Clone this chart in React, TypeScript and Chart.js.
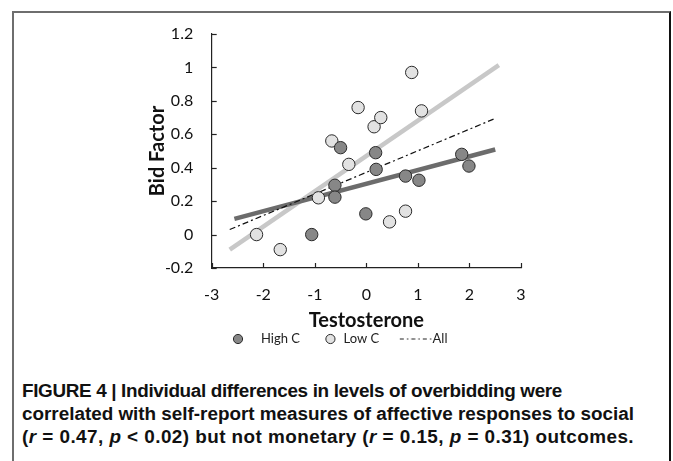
import React, { useEffect, useLayoutEffect, useRef } from 'react';
import { Chart, registerables } from 'chart.js';

Chart.register(...registerables);

// ---- data ----
const highX = [-1.06, -0.61, -0.61, -0.5, -0.01, 0.18, 0.19, 0.76, 1.02, 1.85, 1.99];
const highY = [0.0, 0.295, 0.224, 0.52, 0.124, 0.49, 0.39, 0.35, 0.325, 0.48, 0.41];
const lowX = [-2.13, -1.67, -0.93, -0.67, -0.34, -0.16, 0.15, 0.28, 0.45, 0.76, 0.88, 1.07];
const lowY = [0.0, -0.09, 0.22, 0.56, 0.42, 0.76, 0.645, 0.7, 0.076, 0.14, 0.97, 0.74];
const highFitX = [-2.56, 2.5];
const highFitY = [0.094, 0.509];
const lowFitX = [-2.65, 2.57];
const lowFitY = [-0.09, 1.014];
const allFitX = [-2.65, 2.5];
const allFitY = [0.03, 0.695];

const xTickLabels = ['-3', '-2', '-1', '0', '1', '2', '3'];
const yTickLabels = ['-0.2', '0', '0.2', '0.4', '0.6', '0.8', '1', '1.2'];
const legendLabels = ['High C', 'Low C', 'All'];
const xTitle = 'Testosterone';
const yTitle = 'Bid Factor';

const HIGH_FILL = '#878787';
const LOW_FILL = '#e2e2e2';
const OUTLINE = '#2a2a2a';
const HIGH_LINE = '#6c6c6c';
const LOW_LINE = '#c8c8c8';
const TEXT = '#111';

const pts = (xs: number[], ys: number[]) => xs.map((x, i) => ({ x, y: ys[i] }));

function makeDashImage(): HTMLCanvasElement {
  const c = document.createElement('canvas');
  c.width = 53;
  c.height = 4;
  const g = c.getContext('2d')!;
  g.strokeStyle = '#222';
  g.lineWidth = 1.2;
  g.setLineDash([4, 3, 1.5, 3]);
  g.beginPath();
  g.moveTo(20, 2);
  g.lineTo(53, 2);
  g.stroke();
  return c;
}

const innerTicks = {
  id: 'innerTicks',
  afterDatasetsDraw(chart: any) {
    const { ctx, chartArea, scales } = chart;
    ctx.save();
    ctx.strokeStyle = '#222';
    ctx.lineWidth = 1.2;
    scales.x.ticks.forEach((t: any) => {
      const px = Math.round(scales.x.getPixelForValue(t.value)) + 0.5;
      ctx.beginPath();
      ctx.moveTo(px, chartArea.bottom);
      ctx.lineTo(px, chartArea.bottom - 5);
      ctx.stroke();
    });
    scales.y.ticks.forEach((t: any) => {
      const py = Math.round(scales.y.getPixelForValue(t.value)) + 0.5;
      ctx.beginPath();
      ctx.moveTo(chartArea.left, py);
      ctx.lineTo(chartArea.left + 5, py);
      ctx.stroke();
    });
    ctx.restore();
  },
};

function ScatterChart() {
  const ref = useRef<HTMLCanvasElement | null>(null);
  useEffect(() => {
    if (!ref.current) return;
    const dashImg = makeDashImage();
    const chart = new Chart(ref.current, {
      type: 'scatter',
      data: {
        datasets: [
          {
            label: legendLabels[0],
            data: pts(highX, highY),
            backgroundColor: HIGH_FILL,
            borderColor: OUTLINE,
            borderWidth: 1,
            pointRadius: 6.2,
            pointHoverRadius: 6.2,
            order: 0,
          },
          {
            label: legendLabels[1],
            data: pts(lowX, lowY),
            backgroundColor: LOW_FILL,
            borderColor: OUTLINE,
            borderWidth: 1,
            pointRadius: 6.2,
            pointHoverRadius: 6.2,
            order: 0,
          },
          {
            label: legendLabels[2],
            type: 'line',
            data: pts(allFitX, allFitY),
            showLine: true,
            borderColor: '#111',
            borderWidth: 1.2,
            borderDash: [6, 3, 2, 3],
            pointRadius: 0,
            fill: false,
            order: 1,
          } as any,
          {
            label: 'High C fit',
            type: 'line',
            data: pts(highFitX, highFitY),
            showLine: true,
            borderColor: HIGH_LINE,
            borderWidth: 4.5,
            borderCapStyle: 'butt',
            pointRadius: 0,
            fill: false,
            order: 2,
          } as any,
          {
            label: 'Low C fit',
            type: 'line',
            data: pts(lowFitX, lowFitY),
            showLine: true,
            borderColor: LOW_LINE,
            borderWidth: 4.5,
            borderCapStyle: 'butt',
            pointRadius: 0,
            fill: false,
            order: 3,
          } as any,
        ],
      },
      options: {
        animation: false,
        responsive: false,
        events: [],
        layout: { padding: { left: 18, right: 29, top: 20, bottom: 1.5 } },
        plugins: {
          tooltip: { enabled: false },
          legend: {
            display: true,
            position: 'bottom',
            labels: {
              usePointStyle: true,
              boxWidth: 13,
              boxHeight: 6.5,
              padding: 4,
              color: '#222',
              font: { family: 'Lato', size: 13 },
              generateLabels: () => [
                {
                  text: '   ' + legendLabels[0] + '      ',
                  fillStyle: HIGH_FILL,
                  strokeStyle: OUTLINE,
                  lineWidth: 1,
                  pointStyle: 'circle',
                  hidden: false,
                  fontColor: '#222',
                  datasetIndex: 0,
                } as any,
                {
                  text: legendLabels[1] + '     ',
                  fillStyle: LOW_FILL,
                  strokeStyle: OUTLINE,
                  lineWidth: 1,
                  pointStyle: 'circle',
                  hidden: false,
                  fontColor: '#222',
                  datasetIndex: 1,
                } as any,
                {
                  text: '    ' + legendLabels[2],
                  fillStyle: 'rgba(0,0,0,0)',
                  strokeStyle: 'rgba(0,0,0,0)',
                  lineWidth: 0,
                  pointStyle: dashImg,
                  hidden: false,
                  fontColor: '#222',
                  datasetIndex: 2,
                } as any,
              ],
            },
          },
        },
        scales: {
          x: {
            type: 'linear',
            min: -3,
            max: 3,
            afterFit: (s: any) => {
              s.height = 60.5;
              s.paddingLeft = 0;
              s.paddingRight = 0;
            },
            ticks: {
              stepSize: 1,
              padding: 17,
              color: TEXT,
              font: { family: 'Lato', size: 16 },
              callback: (_v: any, i: number) => xTickLabels[i],
            },
            grid: { display: false, drawTicks: false },
            border: { display: true, color: '#222', width: 1.2 },
            title: {
              display: true,
              text: xTitle,
              color: TEXT,
              font: { family: 'Lato', size: 20, weight: 'bold' },
              padding: { top: 0, bottom: -4.5 },
            },
          },
          y: {
            type: 'linear',
            min: -0.2,
            max: 1.2,
            afterFit: (s: any) => {
              s.width = 53.7;
              s.paddingTop = 0;
              s.paddingBottom = 0;
            },
            ticks: {
              stepSize: 0.2,
              padding: 18.5,
              color: TEXT,
              font: { family: 'Lato', size: 16 },
              callback: (_v: any, i: number) => yTickLabels[i],
            },
            grid: { display: false, drawTicks: false },
            border: { display: true, color: '#222', width: 1.2 },
            title: {
              display: true,
              text: yTitle,
              color: TEXT,
              font: { family: 'Lato', size: 20, weight: 'bold' },
              padding: { top: -12, bottom: 0 },
            },
          },
        },
      } as any,
      plugins: [innerTicks],
    });
    return () => chart.destroy();
  }, []);
  return <canvas ref={ref} width={410} height={343} style={{ width: 410, height: 343, display: 'block' }} />;
}

const captionTargets = [540, 612, 612];

function Caption() {
  const l1 = useRef<HTMLSpanElement | null>(null);
  const l2 = useRef<HTMLSpanElement | null>(null);
  const l3 = useRef<HTMLSpanElement | null>(null);
  useLayoutEffect(() => {
    [l1, l2, l3].forEach((r, i) => {
      const el = r.current;
      if (!el) return;
      el.style.letterSpacing = '0px';
      const w = el.getBoundingClientRect().width;
      const n = (el.textContent || '').length;
      el.style.letterSpacing = ((captionTargets[i] - w) / n).toFixed(3) + 'px';
    });
  }, []);
  const lineStyle: React.CSSProperties = { display: 'inline-block', whiteSpace: 'nowrap' };
  return (
    <div
      style={{
        position: 'absolute',
        left: 22,
        top: 379,
        whiteSpace: 'nowrap',
        fontFamily: '"Liberation Sans", Arial, sans-serif',
        fontWeight: 'bold',
        fontSize: 18.9,
        lineHeight: '23px',
        color: '#111',
      }}
    >
      <span ref={l1} style={lineStyle}>
        FIGURE 4 | Individual differences in levels of overbidding were
      </span>
      <br />
      <span ref={l2} style={lineStyle}>
        correlated with self-report measures of affective responses to social
      </span>
      <br />
      <span ref={l3} style={lineStyle}>
        (<i>r</i> = 0.47, <i>p</i> &lt; 0.02) but not monetary (<i>r</i> = 0.15, <i>p</i> = 0.31) outcomes.
      </span>
    </div>
  );
}

export default function App() {
  return (
    <div
      style={{
        position: 'absolute',
        left: 0,
        top: 0,
        width: 673,
        height: 461,
        background: '#fff',
        overflow: 'hidden',
      }}
    >
      <div
        style={{
          position: 'absolute',
          left: 12,
          top: 11,
          width: 659,
          height: 600,
          boxSizing: 'border-box',
          borderTop: '2px solid #6e6e6e',
          borderLeft: '2px solid #6e6e6e',
          borderRight: '2px solid #111',
        }}
      />
      <div style={{ position: 'absolute', left: 140, top: 14, width: 410, height: 343 }}>
        <ScatterChart />
      </div>
      <Caption />
    </div>
  );
}
